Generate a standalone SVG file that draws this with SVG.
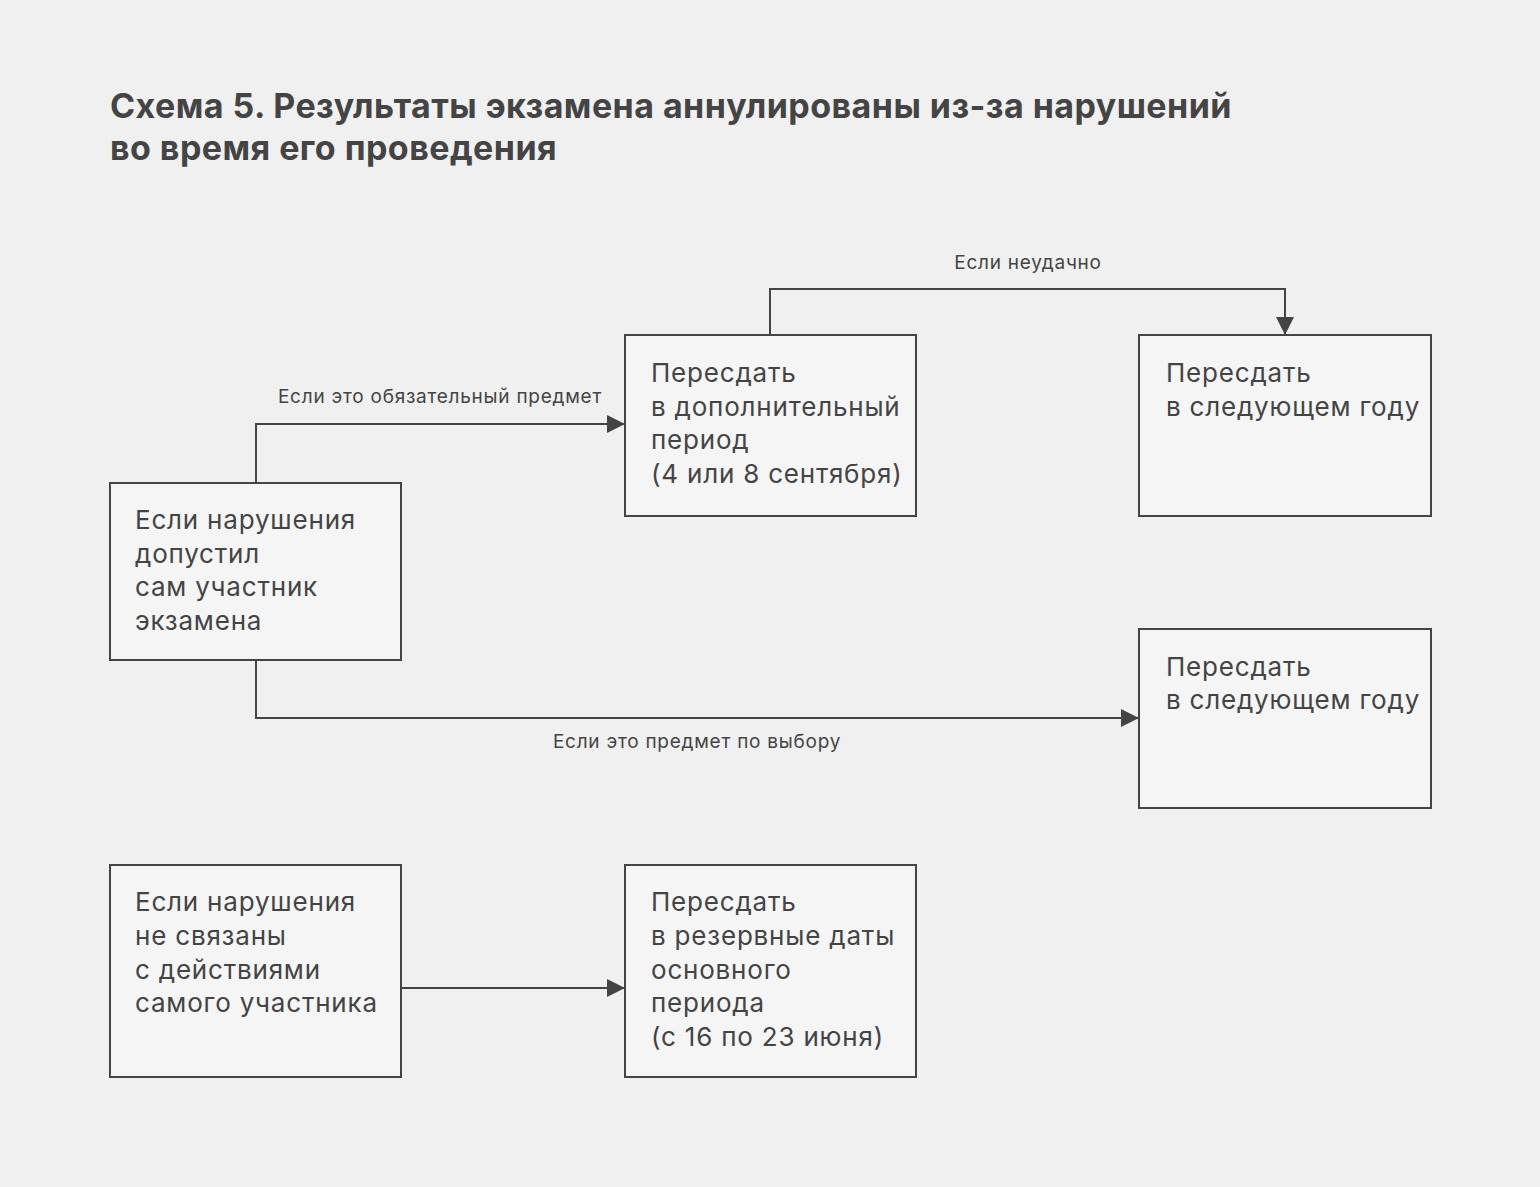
<svg xmlns="http://www.w3.org/2000/svg" width="1540" height="1187" viewBox="0 0 1540 1187">
<defs>
<marker id="arr" viewBox="0 0 18 18" refX="18" refY="9" markerWidth="18" markerHeight="18" markerUnits="userSpaceOnUse" orient="auto">
<path d="M0,0 L18,9 L0,18 Z" fill="#444"/>
</marker>
<style>
.title{font-family:Inter,"Liberation Sans",sans-serif;font-weight:700;font-size:34px;fill:#444;letter-spacing:0.45px}
.box{fill:#f5f5f5;stroke:#444;stroke-width:2}
.t{font-family:Inter,"Liberation Sans",sans-serif;font-size:26px;fill:#444;letter-spacing:0.8px}
.lbl{font-family:Inter,"Liberation Sans",sans-serif;font-size:19px;fill:#444;letter-spacing:0.75px}
.c{fill:none;stroke:#444;stroke-width:2;marker-end:url(#arr)}
</style>
</defs>
<rect width="1540" height="1187" fill="#f0f0f0"/>
<g id="title">
<text class="title" x="110" y="118">Схема 5. Результаты экзамена аннулированы из-за нарушений</text>
<text class="title" x="110" y="160">во время его проведения</text>
</g>
<g id="connectors">
<path class="c" d="M256,483 V424 H625"/>
<path class="c" d="M770,335 V289 H1285 V335"/>
<path class="c" d="M256,660 V718 H1139"/>
<path class="c" d="M401,988 H625"/>
<text class="lbl" x="440" y="403" text-anchor="middle">Если это обязательный предмет</text>
<text class="lbl" x="1028" y="269" text-anchor="middle">Если неудачно</text>
<text class="lbl" x="697" y="748" text-anchor="middle">Если это предмет по выбору</text>
</g>
<g id="nodeA">
<rect class="box" x="110" y="483" width="291" height="177"/>
<text class="t" x="135" y="529">Если нарушения</text>
<text class="t" x="135" y="563">допустил</text>
<text class="t" x="135" y="596">сам участник</text>
<text class="t" x="135" y="630">экзамена</text>
</g>
<g id="nodeB">
<rect class="box" x="625" y="335" width="291" height="181"/>
<text class="t" x="651" y="382">Пересдать</text>
<text class="t" x="651" y="416">в дополнительный</text>
<text class="t" x="651" y="449">период</text>
<text class="t" x="651" y="483">(4 или 8 сентября)</text>
</g>
<g id="nodeC">
<rect class="box" x="1139" y="335" width="292" height="181"/>
<text class="t" x="1166" y="382">Пересдать</text>
<text class="t" x="1166" y="416">в следующем году</text>
</g>
<g id="nodeD">
<rect class="box" x="1139" y="629" width="292" height="179"/>
<text class="t" x="1166" y="676">Пересдать</text>
<text class="t" x="1166" y="709">в следующем году</text>
</g>
<g id="nodeE">
<rect class="box" x="110" y="865" width="291" height="212"/>
<text class="t" x="135" y="911">Если нарушения</text>
<text class="t" x="135" y="945">не связаны</text>
<text class="t" x="135" y="979">с действиями</text>
<text class="t" x="135" y="1012">самого участника</text>
</g>
<g id="nodeF">
<rect class="box" x="625" y="865" width="291" height="212"/>
<text class="t" x="651" y="911">Пересдать</text>
<text class="t" x="651" y="945">в резервные даты</text>
<text class="t" x="651" y="979">основного</text>
<text class="t" x="651" y="1012">периода</text>
<text class="t" x="651" y="1046">(с 16 по 23 июня)</text>
</g>
</svg>
